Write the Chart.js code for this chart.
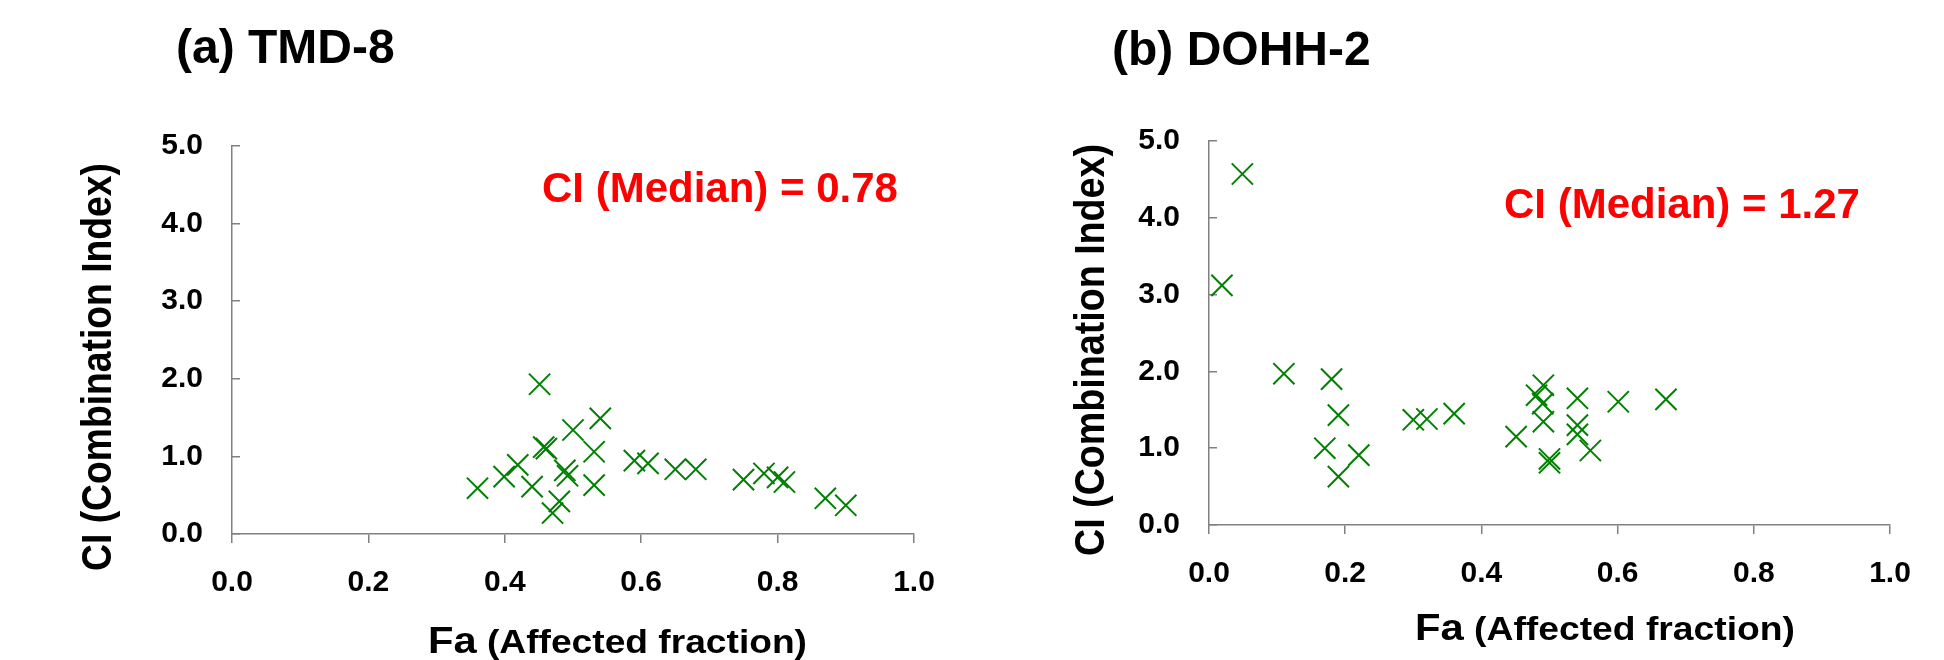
<!DOCTYPE html>
<html>
<head>
<meta charset="utf-8">
<script src="https://cdn.jsdelivr.net/npm/chart.js@4.4.0/dist/chart.umd.min.js"></script>
<style>
  html, body { margin: 0; padding: 0; background: #ffffff; }
  #wrap { position: relative; width: 1944px; height: 660px; overflow: hidden; background: #fff; }
  canvas { position: absolute; top: 0; }
  #cA { left: 0px; }
  #cB { left: 972px; }
</style>
</head>
<body>
<div id="wrap">
  <canvas id="cA" width="972" height="660"></canvas>
  <canvas id="cB" width="972" height="660"></canvas>
</div>
<script>
// ---------------- data ----------------
const xTickLabels = ['0.0', '0.2', '0.4', '0.6', '0.8', '1.0'];
const yTickLabels = ['0.0', '1.0', '2.0', '3.0', '4.0', '5.0'];

const panelTitles = ['(a) TMD-8', '(b) DOHH-2'];
const medianLabels = ['CI (Median) = 0.78', 'CI (Median) = 1.27'];
const yAxisTitle = 'CI (Combination Index)';
const xAxisTitleMain = 'Fa';
const xAxisTitleRest = ' (Affected fraction)';

// (a) TMD-8
const faTMD8 = [0.36, 0.399, 0.419, 0.44, 0.451, 0.457, 0.461, 0.488, 0.492, 0.48, 0.47, 0.50, 0.531, 0.54, 0.531, 0.59, 0.61, 0.65, 0.68, 0.75, 0.78, 0.80, 0.81, 0.87, 0.90];
const ciTMD8 = [0.59, 0.74, 0.89, 0.61, 1.93, 1.12, 1.10, 0.82, 0.75, 0.42, 0.27, 1.34, 1.06, 1.49, 0.63, 0.945, 0.91, 0.834, 0.834, 0.70, 0.78, 0.73, 0.67, 0.46, 0.37];

// (b) DOHH-2
const faDOHH2 = [0.019, 0.049, 0.11, 0.18, 0.19, 0.17, 0.19, 0.22, 0.30, 0.32, 0.36, 0.451, 0.481, 0.491, 0.49, 0.491, 0.50, 0.50, 0.541, 0.541, 0.541, 0.56, 0.601, 0.671];
const ciDOHH2 = [3.12, 4.57, 1.97, 1.90, 1.43, 1.00, 0.63, 0.91, 1.37, 1.38, 1.45, 1.15, 1.69, 1.82, 1.58, 1.345, 0.86, 0.81, 1.65, 1.30, 1.18, 0.97, 1.605, 1.636];

// ---------------- helpers ----------------
const FONT = "'Liberation Sans', Arial, Helvetica, sans-serif";
const AXIS_GREY = '#808080';
const GREEN = '#008000';

function toPoints(xs, ys) {
  return xs.map((x, i) => ({ x: x, y: ys[i] }));
}

const decorPlugin = {
  id: 'decor',
  afterDraw(chart, args, o) {
    const ctx = chart.ctx;
    ctx.save();
    ctx.fillStyle = '#000';
    // panel title
    ctx.font = 'bold 48px ' + FONT;
    ctx.textAlign = 'left';
    ctx.textBaseline = 'alphabetic';
    ctx.fillText(o.title, o.titleX, o.titleY);
    // median annotation
    ctx.fillStyle = '#ff0000';
    ctx.font = 'bold 42px ' + FONT;
    ctx.fillText(o.median, o.medX, o.medY);
    // y axis title (rotated)
    ctx.fillStyle = '#000';
    ctx.save();
    ctx.translate(o.yTitleX, o.yTitleY);
    ctx.rotate(-Math.PI / 2);
    ctx.font = 'bold 42px ' + FONT;
    const natural = ctx.measureText(yAxisTitle).width;
    ctx.scale(o.yTitleLen / natural, 1);
    ctx.textAlign = 'center';
    ctx.textBaseline = 'middle';
    ctx.fillText(yAxisTitle, 0, 0);
    ctx.restore();
    // x axis title
    ctx.save();
    ctx.font = 'bold 37px ' + FONT;
    const w1 = ctx.measureText(xAxisTitleMain).width;
    ctx.font = 'bold 33px ' + FONT;
    const w2 = ctx.measureText(xAxisTitleRest).width;
    ctx.translate(o.xTitleX, o.xTitleY);
    ctx.scale(o.xTitleLen / (w1 + w2), 1);
    ctx.textAlign = 'left';
    ctx.textBaseline = 'alphabetic';
    ctx.font = 'bold 37px ' + FONT;
    ctx.fillText(xAxisTitleMain, 0, 0);
    ctx.font = 'bold 33px ' + FONT;
    ctx.fillText(xAxisTitleRest, w1, 0);
    ctx.restore();
    ctx.restore();
  }
};

function makeChart(canvasId, xs, ys, geo, deco) {
  return new Chart(document.getElementById(canvasId), {
    type: 'scatter',
    data: {
      datasets: [{
        data: toPoints(xs, ys),
        pointStyle: 'crossRot',
        pointRadius: 15,
        pointHoverRadius: 15,
        borderColor: GREEN,
        backgroundColor: GREEN,
        borderWidth: 2,
        pointBorderWidth: 2,
        clip: false
      }]
    },
    options: {
      responsive: false,
      animation: false,
      events: [],
      layout: { padding: { left: 0, right: geo.right, top: geo.top, bottom: 0 } },
      plugins: {
        legend: { display: false },
        tooltip: { enabled: false },
        title: { display: false },
        decor: deco
      },
      scales: {
        x: {
          type: 'linear',
          position: 'bottom',
          min: 0, max: 1,
          ticks: {
            stepSize: 0.2,
            autoSkip: false,
            maxRotation: 0,
            padding: 22,
            color: '#000',
            font: { family: FONT, size: 30, weight: 'bold' },
            callback: (v, i) => xTickLabels[i]
          },
          grid: { display: true, drawOnChartArea: false, drawTicks: true, tickLength: 9, color: AXIS_GREY, lineWidth: 1.5 },
          border: { display: true, color: AXIS_GREY, width: 1.5 },
          afterFit: (s) => { s.height = geo.xAxisH; }
        },
        y: {
          type: 'linear',
          position: 'left',
          min: 0, max: 5,
          ticks: {
            stepSize: 1,
            autoSkip: false,
            padding: 37,
            color: '#000',
            font: { family: FONT, size: 30, weight: 'bold' },
            callback: (v, i) => yTickLabels[i]
          },
          grid: { display: true, drawOnChartArea: false, drawTicks: true, tickLength: -8, color: AXIS_GREY, lineWidth: 1.5 },
          border: { display: true, color: AXIS_GREY, width: 1.5 },
          afterFit: (s) => { s.width = geo.yAxisW; }
        }
      }
    },
    plugins: [decorPlugin]
  });
}

// left panel: chart area x 232..914, y 146..534
makeChart('cA', faTMD8, ciTMD8,
  { right: 972 - 914, top: 146, xAxisH: 660 - 534, yAxisW: 232 },
  { title: panelTitles[0], titleX: 176, titleY: 63,
    median: medianLabels[0], medX: 542, medY: 202,
    yTitleX: 99, yTitleY: 367, yTitleLen: 408,
    xTitleX: 428, xTitleY: 653, xTitleLen: 379 });

// right panel: chart area x 1209..1890, y 141..525 (canvas offset 972)
makeChart('cB', faDOHH2, ciDOHH2,
  { right: 972 - (1890 - 972), top: 141, xAxisH: 660 - 525, yAxisW: 1209 - 972 },
  { title: panelTitles[1], titleX: 1112 - 972, titleY: 65,
    median: medianLabels[1], medX: 1504 - 972, medY: 218,
    yTitleX: 1092 - 972, yTitleY: 350, yTitleLen: 412,
    xTitleX: 1415 - 972, xTitleY: 640, xTitleLen: 380 });
</script>
</body>
</html>
